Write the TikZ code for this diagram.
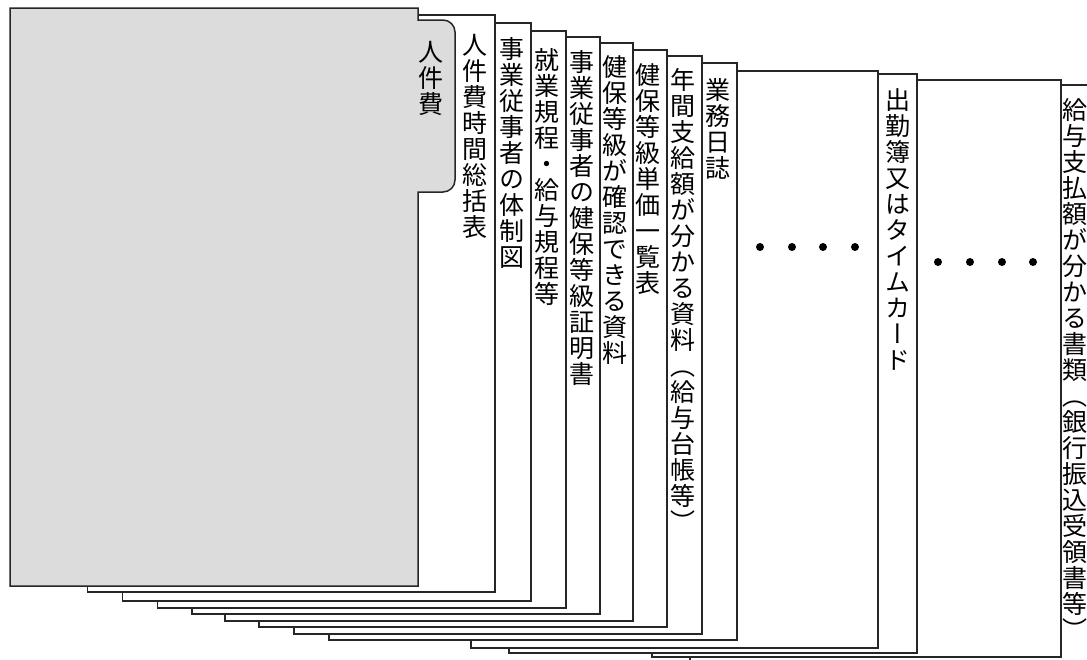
\documentclass[tikz,border=0pt]{standalone}
\usepackage{fontspec}
\newfontfamily\jpfont[RawFeature=+vert]{Noto Sans CJK JP}
\makeatletter
\newcommand\vtxt[1]{\vbox{\offinterlineskip\@tfor\vt@c:=#1\do{\hbox to 26pt{\hss\vrule height 22pt depth 4pt width 0pt\vt@c\hss}}}}
\makeatother
\definecolor{pagegrey}{RGB}{220,220,220}
\tikzset{
  page/.style={draw=black!85, line width=1.5pt, fill=white, line join=miter},
  lbl/.style={anchor=north, inner sep=0pt, font=\jpfont\fontsize{25}{26}\selectfont},
  dotmark/.style={circle, fill=black, inner sep=0pt, minimum size=8pt},
}
\begin{document}
\begin{tikzpicture}[x=1pt,y=-1pt]
\useasboundingbox (0,0) rectangle (1087,659);
\clip (0,0) rectangle (1087,659);
\fill[white] (0,0) rectangle (1087,659);
% pages from back to front
\draw[page] (690,85) rectangle ++(408,578);
\draw[page] (652,80) rectangle ++(409,577);
\draw[page] (509,74) rectangle ++(408,579);
\draw[page] (471,71) rectangle ++(407,577);
\draw[page] (329,63) rectangle ++(408,577);
\draw[page] (294,56) rectangle ++(408,578);
\draw[page] (259,50) rectangle ++(408,577);
\draw[page] (225,43) rectangle ++(408,578);
\draw[page] (192,37) rectangle ++(408,577);
\draw[page] (157.5,31) rectangle ++(408.5,577);
\draw[page] (122.5,23) rectangle ++(408.5,578);
\draw[page] (87.5,15) rectangle ++(407.5,577);
% front page with tab
\draw[page, fill=pagegrey] (10,8) -- (418,8) -- (418,20) -- (443,20)
  arc[start angle=90, end angle=0, radius=12pt] -- (455,180)
  arc[start angle=0, end angle=-90, radius=12pt] -- (418,192)
  -- (418,586) -- (10,586) -- cycle;
% labels
\node[lbl] (t0) at (431,39) {\vtxt{人件費}};
\node[lbl] (t1) at (475,32) {\vtxt{人件費時間総括表}};
\node[lbl] (t2) at (512,36) {\vtxt{事業従事者の体制図}};
\node[lbl] (t3) at (547,47) {\vtxt{就業規程・給与規程等}};
\node[lbl] (t4) at (582,49) {\vtxt{事業従事者の健保等級証明書}};
\node[lbl] (t5) at (615,54) {\vtxt{健保等級が確認できる資料}};
\node[lbl] (t6) at (648,62) {\vtxt{健保等級単価一覧表}};
\node[lbl] (t7) at (683,67) {\vtxt{年間支給額が分かる資料（給与台帳等）}};
\node[lbl] (t8) at (718,77) {\vtxt{業務日誌}};
\node[lbl] (t10) at (898,87) {\vtxt{出勤簿又はタイムカード}};
\node[lbl] (t12) at (1075,97) {\vtxt{給与支払額が分かる書類（銀行振込受領書等）}};
% dots
\node[dotmark] (a1) at (760,247) {};
\node[dotmark] (a2) at (792,247) {};
\node[dotmark] (a3) at (823,247) {};
\node[dotmark] (a4) at (855,247) {};
\node[dotmark] (b1) at (938,262) {};
\node[dotmark] (b2) at (970,262) {};
\node[dotmark] (b3) at (1002,262) {};
\node[dotmark] (b4) at (1033,262) {};
\end{tikzpicture}
\end{document}
